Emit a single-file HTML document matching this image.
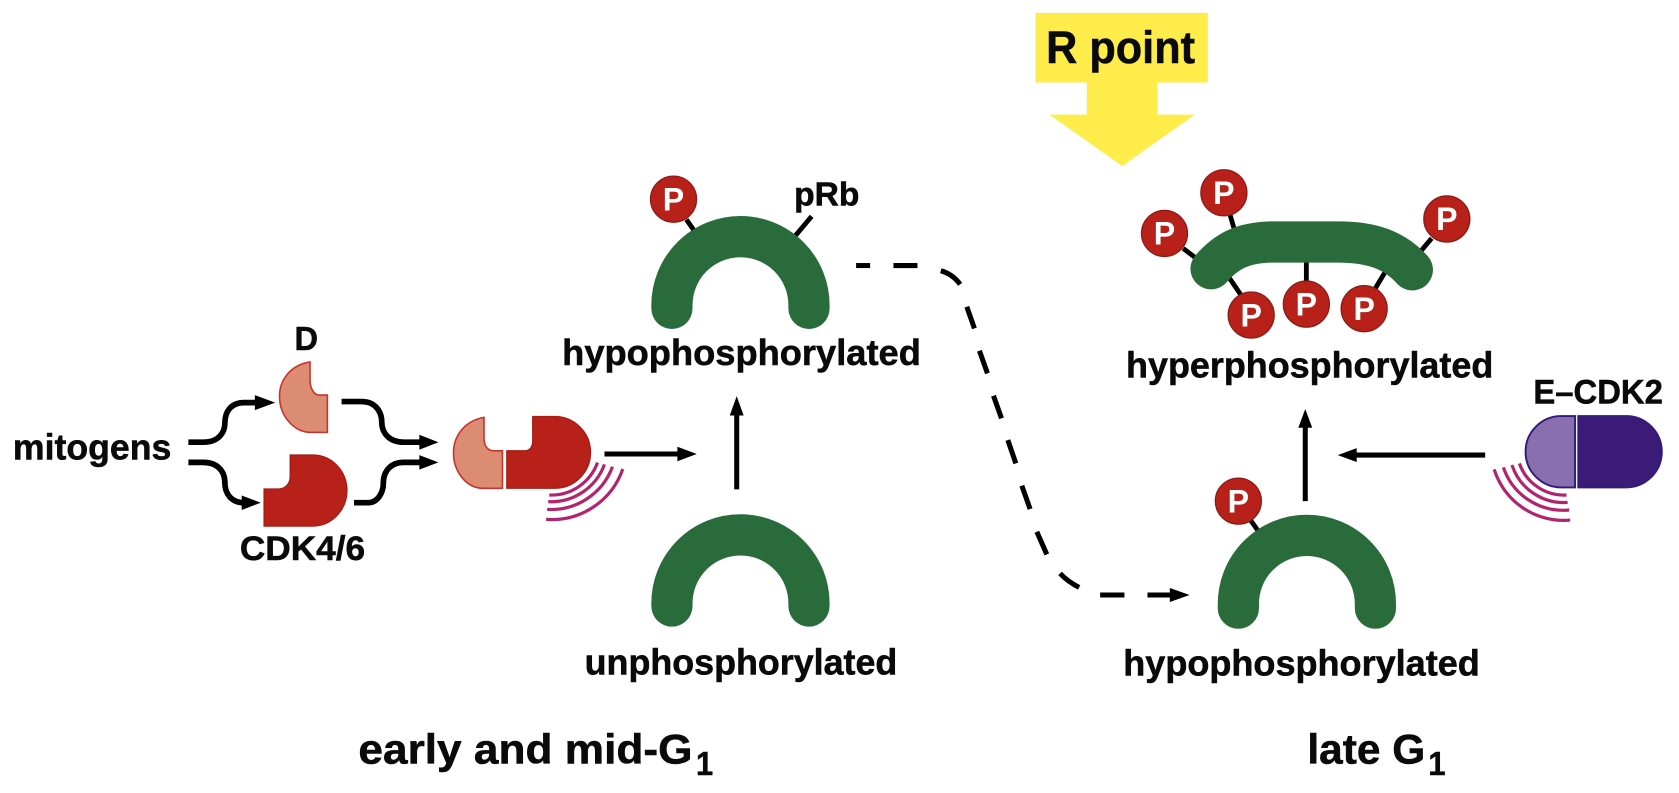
<!DOCTYPE html>
<html>
<head>
<meta charset="utf-8">
<style>
html,body{margin:0;padding:0;background:#fff;}
svg{display:block;}
text{font-family:"Liberation Sans",sans-serif;font-weight:bold;fill:#0a0a0a;stroke:#0a0a0a;stroke-width:.5;}
.a{fill:none;stroke:#2a6b3c;stroke-width:38.5;stroke-linecap:round;}
.l{stroke:#000;stroke-width:4.5;fill:none;}
.c{fill:none;stroke:#000;stroke-width:5.3;}
.m{fill:none;stroke:#b3246f;stroke-width:3;}
.p{fill:#b8201a;stroke:#8e1a15;stroke-width:1.2;}
.pt{fill:#fff;stroke:none;font-size:30px;text-anchor:middle;}
.d{fill:#dc8c72;stroke:#c6352a;stroke-width:1.5;}
.k{fill:#b8201a;stroke:#a51c16;stroke-width:1.2;}
.h{stroke:#000;stroke-width:4.7;fill:none;}
.h2{stroke:#000;stroke-width:4.7;fill:none;}
</style>
</head>
<body>
<svg width="1679" height="793" viewBox="0 0 1568 740.6" xmlns="http://www.w3.org/2000/svg">
<rect width="1568" height="741" fill="#fff"/>
<!-- R point arrow -->
<path d="M967 12H1128V77H1081V107H1116L1048 155L980 107H1015V77H967Z" fill="#fdec4a"/>
<text x="977" y="59" font-size="42" textLength="139" lengthAdjust="spacingAndGlyphs">R point</text>

<!-- connector lines for phosphates -->
<path class="l" d="M641 205L650 218M758 202L742 221"/>
<path class="l" d="M1168 486L1178 500"/>
<path class="l" d="M1105 232L1122 245M1148.800 200.800L1155 222M1147 258L1160 277M1220 240V266M1296 250L1284 270M1337 222.600L1324 238"/>

<!-- arches -->
<path class="a" d="M627.500 288V285A64 64 0 0 1 755.500 285V288"/>
<path class="a" d="M627.500 566V563.500A64 64 0 0 1 755.500 563.500V566"/>
<path class="a" d="M1156.500 568V564A64 64 0 0 1 1284.500 564V568"/>
<path class="a" d="M1131 251C1145 235 1160 226 1190 226H1250C1280 226 1302 233 1319 252"/>

<!-- phosphates -->
<g>
<circle class="p" cx="629" cy="186" r="21.500"/><text class="pt" x="629" y="196.500">P</text>
<circle class="p" cx="1156.500" cy="468" r="21.500"/><text class="pt" x="1156.500" y="478.500">P</text>
<circle class="p" cx="1087.500" cy="218" r="21.500"/><text class="pt" x="1087.500" y="228.500">P</text>
<circle class="p" cx="1143" cy="180" r="21.500"/><text class="pt" x="1143" y="190.500">P</text>
<circle class="p" cx="1168.500" cy="294.200" r="21.500"/><text class="pt" x="1168.500" y="304.700">P</text>
<circle class="p" cx="1220" cy="284" r="21.500"/><text class="pt" x="1220" y="294.500">P</text>
<circle class="p" cx="1274" cy="288.300" r="21.500"/><text class="pt" x="1274" y="298.800">P</text>
<circle class="p" cx="1351.200" cy="204.500" r="21.500"/><text class="pt" x="1351.200" y="215">P</text>
</g>

<!-- cyclin D / CDK4/6 -->
<path class="d" d="M289.500 338C271 341 261 355 261 370C261 389 275 403.800 290 403.800H305.700V369H298C293 369 289.500 362 289.500 355Z"/>
<path class="k" d="M246.600 456.700H260C266 456.700 271 452 271 445V425H292C310 425 324 440 324 458C324 476 310 491.300 292 491.300H246.600Z"/>
<path class="d" d="M452 389.800C434 393 423.500 407 423.500 423C423.500 441 436 456 451 456H469.200V421H461C455 421 452 416 452 409Z"/>
<path class="k" d="M473.300 456V421H490C495 421 497.500 417 497.500 412V389H518A33.500 33.500 0 0 1 518 456Z"/>
<g class="m">
<path d="M558 432A46 46 0 0 1 513 462.300"/>
<path d="M564.500 433.700A53 53 0 0 1 512 468.500"/>
<path d="M572 435.900A61 61 0 0 1 511 475.700"/>
<path d="M581.600 438A70 70 0 0 1 510 485"/>
</g>

<!-- E-CDK2 -->
<path d="M1471 388.600V455.200H1458A33.300 33.300 0 0 1 1458 388.600Z" fill="#8a6fb0" stroke="#2f1b78" stroke-width="1.800"/>
<path d="M1474 388.600H1518.700A33.300 33.300 0 0 1 1518.700 455.200H1474Z" fill="#3b1a78" stroke="#2f1b78" stroke-width="1.800"/>
<g class="m">
<path d="M1419 432.800A44 44 0 0 0 1463 462.300"/>
<path d="M1412 434.300A51 51 0 0 0 1464 469.200"/>
<path d="M1404 436.500A59 59 0 0 0 1465.500 476.300"/>
<path d="M1395.400 438.400A68 68 0 0 0 1466.400 485.700"/>
</g>

<!-- curved arrows -->
<path class="c" d="M175.900 413H190C205 413 210 403 210 395C210 384 216 376 228 376H240"/>
<path d="M257 376L238 369V383Z"/>
<path class="c" d="M175.900 431.800H190C203 431.800 210 440 210 451C210 461 216 469.500 228 469.500"/>
<path d="M243.500 469.500L225.700 462.700V476.300Z"/>
<path class="c" d="M319 375H338C350 375 356.500 384 356.500 394C356.500 405 364 413 377 413H395"/>
<path d="M409.400 413L391.600 406V420Z"/>
<path class="c" d="M330.600 469.500H344C352 469.500 358 461 358 451C358 440 365 431.800 377 431.800H395"/>
<path d="M409.400 431.800L391.600 425V438.600Z"/>

<!-- straight arrows -->
<path class="h" d="M564.500 424H636"/><path d="M650.700 424L632.600 417.200V430.800Z"/>
<path class="h" d="M688 457V385"/><path d="M688 370L681.500 388H694.500Z"/>
<path class="h" d="M1219 468V396"/><path d="M1219 382L1212.500 399.500H1225.500Z"/>
<path class="h" d="M1387 425H1263"/><path d="M1249.300 425L1267 418.500V431.500Z"/>

<!-- dashed -->
<g class="h2">
<path d="M799.500 248H812.600"/>
<path d="M834.400 248H856.800"/>
<path d="M878.600 252.800C886 255 892 259 896.700 265.600"/>
<path d="M902.900 286.500L910 306.700"/>
<path d="M914.700 327.600L922.200 348.700"/>
<path d="M927.800 369.600L935.300 390.700"/>
<path d="M941.200 411L948.700 432.800"/>
<path d="M954.300 453.600L962 475.400"/>
<path d="M968.300 496.600L977.600 517.800"/>
<path d="M990 535.500C995 541 1001 545 1007.800 548.600"/>
<path d="M1027.400 555.700H1050.100"/>
<path d="M1071.600 555.700H1096"/>
</g>
<path d="M1111 555.700L1092.500 549.200V562.200Z"/>

<!-- labels -->
<text x="12" y="429" font-size="34" textLength="148" lengthAdjust="spacingAndGlyphs">mitogens</text>
<text x="275" y="327" font-size="31" textLength="22" lengthAdjust="spacingAndGlyphs">D</text>
<text x="224" y="523" font-size="32" textLength="117" lengthAdjust="spacingAndGlyphs">CDK4/6</text>
<text x="741.600" y="192" font-size="31" textLength="61" lengthAdjust="spacingAndGlyphs">pRb</text>
<text x="525" y="341" font-size="34" textLength="335" lengthAdjust="spacingAndGlyphs">hypophosphorylated</text>
<text x="546" y="630" font-size="34" textLength="292" lengthAdjust="spacingAndGlyphs">unphosphorylated</text>
<text x="1049" y="631" font-size="34" textLength="333" lengthAdjust="spacingAndGlyphs">hypophosphorylated</text>
<text x="1051.600" y="352.700" font-size="34" textLength="343" lengthAdjust="spacingAndGlyphs">hyperphosphorylated</text>
<text x="1432" y="376.700" font-size="32" textLength="121" lengthAdjust="spacingAndGlyphs">E–CDK2</text>
<text x="334.700" y="713" font-size="39" textLength="312" lengthAdjust="spacingAndGlyphs">early and mid-G</text>
<text x="650" y="724" font-size="31" textLength="16" lengthAdjust="spacingAndGlyphs">1</text>
<text x="1221" y="713" font-size="39" textLength="110" lengthAdjust="spacingAndGlyphs">late G</text>
<text x="1334" y="724" font-size="31" textLength="16" lengthAdjust="spacingAndGlyphs">1</text>
</svg>
</body>
</html>
